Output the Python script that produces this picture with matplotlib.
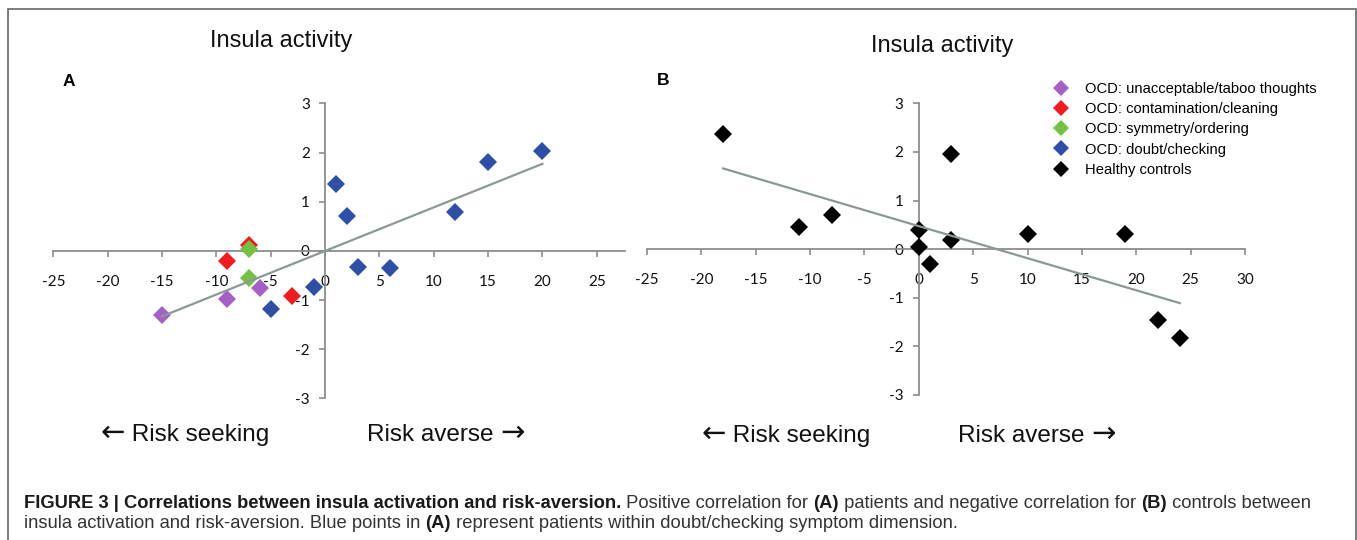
import matplotlib
matplotlib.use('Agg')
import matplotlib.pyplot as plt
from matplotlib.lines import Line2D
from matplotlib.patches import Rectangle

# Panel A: OCD patients, by symptom dimension
taboo_x = [-15, -9, -6]
taboo_y = [-1.30, -0.98, -0.76]
contam_x = [-7, -9, -3]
contam_y = [0.13, -0.21, -0.92]
symm_x = [-7, -7]
symm_y = [0.03, -0.55]
doubt_x = [-5, -1, 1, 2, 3, 6, 12, 15, 20]
doubt_y = [-1.18, -0.74, 1.35, 0.71, -0.32, -0.35, 0.79, 1.80, 2.04]
trend_a_x = [-15, 20]
trend_a_y = [-1.33, 1.77]

# Panel B: healthy controls
ctrl_x = [-18, -11, -8, 0, 0, 1, 3, 3, 10, 19, 22, 24]
ctrl_y = [2.37, 0.46, 0.70, 0.40, 0.05, -0.31, 1.96, 0.19, 0.32, 0.32, -1.45, -1.83]
trend_b_x = [-18, 24]
trend_b_y = [1.66, -1.11]

xticks_a = [-25, -20, -15, -10, -5, 0, 5, 10, 15, 20, 25]
xticks_b = [-25, -20, -15, -10, -5, 0, 5, 10, 15, 20, 25, 30]
yticks = [-3, -2, -1, 0, 1, 2, 3]

legend_labels = ['OCD: unacceptable/taboo thoughts', 'OCD: contamination/cleaning',
                 'OCD: symmetry/ordering', 'OCD: doubt/checking', 'Healthy controls']
colors = ['#a460c4', '#ee1d23', '#74c043', '#2f4ea6', '#000000']

W, H = 1357, 540
fig = plt.figure(figsize=(W / 100, H / 100), dpi=100)
plt.rcParams['font.family'] = ['Liberation Sans', 'DejaVu Sans']

axis_col = '#8c8c8c'
trend_col = '#8a9898'


def px(x, y):
    return x / W, 1 - y / H


def setup(ax, xlim, xticks):
    ax.set_xlim(*xlim)
    ax.set_ylim(-3, 3)
    for s in ['top', 'right']:
        ax.spines[s].set_visible(False)
    ax.spines['left'].set_position(('data', 0))
    ax.spines['bottom'].set_position(('data', 0))
    for s in ['left', 'bottom']:
        ax.spines[s].set_color(axis_col)
        ax.spines[s].set_linewidth(1.3)
    ax.set_xticks(xticks)
    ax.set_yticks(yticks)
    ax.set_xticklabels([str(t) for t in xticks], family='Lato')
    ax.set_yticklabels([str(t) for t in yticks], family='Lato')
    ax.tick_params(axis='x', direction='out', length=4, width=1.2, color=axis_col,
                   pad=13, labelsize=11, labelcolor='#111111')
    ax.tick_params(axis='y', direction='out', length=4, width=1.2, color=axis_col,
                   pad=7, labelsize=11, labelcolor='#111111')
    ax.patch.set_alpha(0)


ms = 9

ax_a = fig.add_axes([53.3 / W, 1 - 398.5 / H, (625 - 53.3) / W, (398.5 - 103.3) / H])
setup(ax_a, (-25, 27.6), xticks_a)
for xs, ys, c in [(taboo_x, taboo_y, colors[0]), (contam_x, contam_y, colors[1]),
                  (symm_x, symm_y, colors[2]), (doubt_x, doubt_y, colors[3])]:
    ax_a.plot(xs, ys, linestyle='none', marker='D', markersize=ms, color=c,
              markeredgewidth=0, clip_on=False, zorder=3)
ax_a.plot(trend_a_x, trend_a_y, color=trend_col, linewidth=1.6, zorder=4)

ax_b = fig.add_axes([647 / W, 1 - 395 / H, (1245 - 647) / W, (395 - 103.3) / H])
setup(ax_b, (-25, 30), xticks_b)
ax_b.plot(ctrl_x, ctrl_y, linestyle='none', marker='D', markersize=ms, color=colors[4],
          markeredgewidth=0, clip_on=False, zorder=3)
ax_b.plot(trend_b_x, trend_b_y, color=trend_col, linewidth=1.6, zorder=4)

# legend
handles = [Line2D([], [], linestyle='none', marker='D', markersize=8, color=c,
                  markeredgewidth=0) for c in colors]
fig.legend(handles, legend_labels, loc='upper left', bbox_to_anchor=px(1054, 82),
           frameon=False, fontsize=10.6, handlelength=1.0, handletextpad=1.1,
           labelspacing=0.42, borderpad=0, borderaxespad=0)

# titles and labels
fig.text(*px(281.5, 47), 'Insula activity', fontsize=17, ha='center', va='baseline', color='#111111')
fig.text(*px(942.5, 52), 'Insula activity', fontsize=17, ha='center', va='baseline', color='#111111')
fig.text(*px(63, 86), 'A', fontsize=12.5, fontweight='bold', va='baseline')
fig.text(*px(657, 85), 'B', fontsize=12.5, fontweight='bold', va='baseline')

renderer = fig.canvas.get_renderer()


def runs(x0, y0, parts, size, color='#333333'):
    # place text pieces one after another on a common baseline
    x = x0
    for s, style in parts:
        kw = dict(fontsize=size, va='baseline', color=color)
        if style == 'bold':
            kw.update(fontweight='bold', color='#1a1a1a')
        elif style == 'arrow':
            kw.update(family='DejaVu Sans', fontsize=size * 1.2)
        t = fig.text(x / W, 1 - y0 / H, s, **kw)
        x += t.get_window_extent(renderer=renderer).width


runs(101, 441, [('\u2190', 'arrow'), (' Risk seeking', None)], 17.5, '#111111')
runs(367, 441, [('Risk averse ', None), ('\u2192', 'arrow')], 17.5, '#111111')
runs(702, 442, [('\u2190', 'arrow'), (' Risk seeking', None)], 17.5, '#111111')
runs(958, 442, [('Risk averse ', None), ('\u2192', 'arrow')], 17.5, '#111111')

# frame around the figure
fig.patches.append(Rectangle(px(8, 560), (1356 - 8) / W, (560 - 8.5) / H,
                             transform=fig.transFigure, fill=False,
                             edgecolor='#666666', linewidth=1.2))

# caption with mixed bold / regular runs
runs(24, 508, [('FIGURE 3 | Correlations between insula activation and risk-aversion.', 'bold'),
               (' Positive correlation for ', None), ('(A)', 'bold'),
               (' patients and negative correlation for ', None), ('(B)', 'bold'),
               (' controls between', None)], 13.25)
runs(24, 528, [('insula activation and risk-aversion. Blue points in ', None), ('(A)', 'bold'),
               (' represent patients within doubt/checking symptom dimension.', None)], 13.25)

fig.savefig('out.png', dpi=100)
